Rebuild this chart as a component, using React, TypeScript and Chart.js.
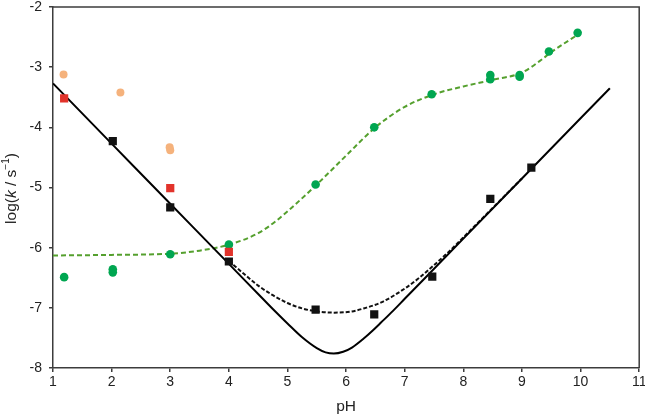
import React, { useEffect, useRef } from "react";
import { Chart, registerables } from "chart.js";

Chart.register(...registerables);

// ---- tick values ----
const xTickValues = [1, 2, 3, 4, 5, 6, 7, 8, 9, 10, 11];
const yTickValues = [-8, -7, -6, -5, -4, -3, -2];

// ---- measured points ----
const orangePH = [1.18, 2.15, 2.99, 3.0];
const orangeLogK = [-3.12, -3.42, -4.33, -4.38];

const redPH = [1.19, 3.0, 4.0];
const redLogK = [-3.52, -5.01, -6.07];

const blackPH = [2.02, 3.0, 4.0, 5.48, 6.48, 7.47, 8.46, 9.16];
const blackLogK = [-4.23, -5.33, -6.23, -7.03, -7.11, -6.48, -5.19, -4.67];

const greenPH = [1.19, 2.02, 2.02, 3.0, 4.0, 5.48, 6.48, 7.46, 8.46, 8.46, 8.96, 8.96, 9.46, 9.95];
const greenLogK = [-6.49, -6.36, -6.41, -6.11, -5.95, -4.95, -4.0, -3.45, -3.13, -3.2, -3.13, -3.16, -2.74, -2.43];

// ---- fitted curves ----
const solidPH = [1, 2, 3, 4, 4.5, 4.75, 5, 5.25, 5.5, 5.65, 5.79, 5.95, 6.1, 6.3, 6.45, 6.6, 6.8, 7, 8, 9, 10, 10.5];
const solidLogK = [-3.27, -4.27, -5.27, -6.27, -6.77, -7.02, -7.26, -7.49, -7.67, -7.74, -7.76, -7.73, -7.66, -7.51, -7.38, -7.24, -7.05, -6.85, -5.85, -4.85, -3.85, -3.35];

const dashedPH = [4, 4.25, 4.5, 4.75, 5, 5.25, 5.5, 5.8, 6.1, 6.3, 6.6, 7, 7.25, 7.5, 7.75, 8, 8.5, 9];
const dashedLogK = [-6.22, -6.43, -6.63, -6.79, -6.92, -7.01, -7.06, -7.08, -7.06, -7.01, -6.91, -6.68, -6.5, -6.29, -6.07, -5.83, -5.34, -4.85];

const greenFitPH = [1, 2, 3, 3.5, 4, 4.5, 4.8, 5.1, 5.5, 6, 6.5, 7, 7.5, 8, 8.5, 9, 9.3, 9.5, 10];
const greenFitLogK = [-6.13, -6.12, -6.1, -6.05, -5.95, -5.76, -5.56, -5.31, -4.95, -4.47, -4.0, -3.66, -3.45, -3.32, -3.21, -3.09, -2.9, -2.75, -2.43];

const FONT = "'Liberation Sans', Arial, Helvetica, sans-serif";
const AXIS = "#3c3c3c";

const pts = (xs: number[], ys: number[]) => xs.map((x, i) => ({ x, y: ys[i] }));

const framePlugin = {
  id: "frame",
  beforeDatasetsDraw(chart: any) {
    const { ctx, chartArea } = chart;
    ctx.save();
    ctx.strokeStyle = AXIS;
    ctx.lineWidth = 1.5;
    ctx.beginPath();
    ctx.moveTo(chartArea.left, chartArea.top);
    ctx.lineTo(chartArea.right, chartArea.top);
    ctx.lineTo(chartArea.right, chartArea.bottom);
    ctx.stroke();
    ctx.restore();
  },
  afterDraw(chart: any) {
    const { ctx, chartArea } = chart;
    ctx.save();
    ctx.fillStyle = "#222";
    // x title
    ctx.font = `15.5px ${FONT}`;
    ctx.textAlign = "center";
    ctx.textBaseline = "middle";
    ctx.fillText("pH", (chartArea.left + chartArea.right) / 2, 407);
    // y title with italic k and superscript
    const parts = [
      { t: "log(", f: `15.5px ${FONT}`, dy: 0 },
      { t: "k", f: `italic 15.5px ${FONT}`, dy: 0 },
      { t: " / s", f: `15.5px ${FONT}`, dy: 0 },
      { t: "\u22121", f: `10px ${FONT}`, dy: -6 },
      { t: ")", f: `15.5px ${FONT}`, dy: 0 },
    ];
    let total = 0;
    const widths = parts.map((p) => {
      ctx.font = p.f;
      const w = ctx.measureText(p.t).width;
      total += w;
      return w;
    });
    ctx.translate(12, (chartArea.top + chartArea.bottom) / 2 + 1);
    ctx.rotate(-Math.PI / 2);
    ctx.textAlign = "left";
    let cx = -total / 2;
    parts.forEach((p, i) => {
      ctx.font = p.f;
      ctx.fillText(p.t, cx, p.dy);
      cx += widths[i];
    });
    ctx.restore();
  },
};

export default function App() {
  const ref = useRef<HTMLCanvasElement>(null);
  useEffect(() => {
    document.body.style.margin = "0";
    const canvas = ref.current!;
    const chart = new Chart(canvas, {
      type: "scatter",
      data: {
        datasets: [
          {
            label: "fit green",
            data: pts(greenFitPH, greenFitLogK),
            showLine: true,
            borderColor: "#55a02e",
            borderWidth: 2,
            borderDash: [5, 3],
            pointRadius: 0,
            cubicInterpolationMode: "monotone",
            order: 5,
          } as any,
          {
            label: "fit dashed",
            data: pts(dashedPH, dashedLogK),
            showLine: true,
            borderColor: "#111",
            borderWidth: 2,
            borderDash: [4, 2],
            pointRadius: 0,
            cubicInterpolationMode: "monotone",
            order: 4,
          } as any,
          {
            label: "fit solid",
            data: pts(solidPH, solidLogK),
            showLine: true,
            borderColor: "#000",
            borderWidth: 2,
            pointRadius: 0,
            cubicInterpolationMode: "monotone",
            order: 3,
          } as any,
          {
            label: "orange",
            data: pts(orangePH, orangeLogK),
            pointStyle: "circle",
            pointRadius: 4,
            backgroundColor: "#f5b27c",
            borderColor: "#f5b27c",
            borderWidth: 0,
            order: 2,
          },
          {
            label: "green",
            data: pts(greenPH, greenLogK),
            pointStyle: "circle",
            pointRadius: 4.3,
            backgroundColor: "#00a651",
            borderColor: "#00a651",
            borderWidth: 0,
            order: 2,
          },
          {
            label: "black",
            data: pts(blackPH, blackLogK),
            pointStyle: "rect",
            pointRadius: 5.8,
            backgroundColor: "#111",
            borderColor: "#111",
            borderWidth: 0,
            order: 1,
          },
          {
            label: "red",
            data: pts(redPH, redLogK),
            pointStyle: "rect",
            pointRadius: 5.8,
            backgroundColor: "#e2332b",
            borderColor: "#e2332b",
            borderWidth: 0,
            order: 0,
          },
        ],
      },
      options: {
        responsive: false,
        animation: false,
        events: [],
        layout: { padding: { top: 7, right: 5, bottom: 0, left: 0 } },
        plugins: { legend: { display: false }, tooltip: { enabled: false } },
        scales: {
          x: {
            type: "linear",
            min: 1,
            max: 11,
            afterBuildTicks: (s: any) => {
              s.ticks = xTickValues.map((v) => ({ value: v }));
            },
            afterFit: (s: any) => {
              s.height = 51;
              s.paddingLeft = 0;
              s.paddingRight = 0;
            },
            ticks: {
              color: "#222",
              font: { family: FONT, size: 14 },
              padding: 2,
              maxRotation: 0,
            },
            grid: {
              drawOnChartArea: false,
              drawTicks: true,
              tickLength: 4,
              color: AXIS,
              lineWidth: 1.5,
            },
            border: { display: true, color: AXIS, width: 1.5 },
          },
          y: {
            type: "linear",
            min: -8,
            max: -2,
            afterBuildTicks: (s: any) => {
              s.ticks = yTickValues.map((v) => ({ value: v }));
            },
            afterFit: (s: any) => {
              s.width = 53;
              s.paddingTop = 0;
              s.paddingBottom = 0;
            },
            ticks: {
              color: "#222",
              font: { family: FONT, size: 14 },
              padding: 7,
            },
            grid: {
              drawOnChartArea: false,
              drawTicks: true,
              tickLength: 4,
              color: AXIS,
              lineWidth: 1.5,
            },
            border: { display: true, color: AXIS, width: 1.5 },
          },
        },
      },
      plugins: [framePlugin],
    } as any);
    return () => chart.destroy();
  }, []);
  return (
    <div style={{ position: "relative", width: 645, height: 419, overflow: "hidden" }}>
      <canvas ref={ref} width={645} height={419} style={{ display: "block" }} />
    </div>
  );
}
